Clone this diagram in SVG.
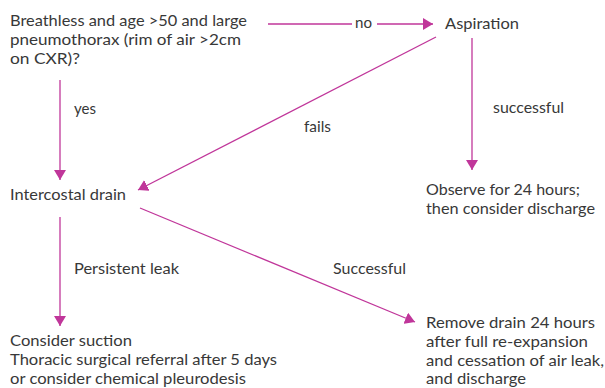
<svg xmlns="http://www.w3.org/2000/svg" width="605" height="388" viewBox="0 0 605 388">
<style>
text{font-family:Lato,"Open Sans","Liberation Sans",sans-serif;font-size:16px;fill:#383838}
.c{stroke:#c0369a;stroke-width:1.3;fill:none}
</style>
<defs>
<marker id="ah" viewBox="0 0 10 12" refX="10" refY="6" markerWidth="10" markerHeight="12" markerUnits="userSpaceOnUse" orient="auto">
<path d="M0,0 L10,6 L0,12 Z" fill="#c0369a"/>
</marker>
</defs>
<rect width="605" height="388" fill="#fff"/>
<g id="q">
<text x="10" y="26" textLength="237" lengthAdjust="spacingAndGlyphs">Breathless and age &gt;50 and large</text>
<text x="10" y="45" textLength="231" lengthAdjust="spacingAndGlyphs">pneumothorax (rim of air &gt;2cm</text>
<text x="10" y="64" textLength="70" lengthAdjust="spacingAndGlyphs">on CXR)?</text>
</g>
<g id="aspiration"><text x="445" y="29" textLength="74" lengthAdjust="spacingAndGlyphs">Aspiration</text></g>
<g id="drain"><text x="10" y="200" textLength="116" lengthAdjust="spacingAndGlyphs">Intercostal drain</text></g>
<g id="observe">
<text x="426" y="195" textLength="154" lengthAdjust="spacingAndGlyphs">Observe for 24 hours;</text>
<text x="426" y="214" textLength="169" lengthAdjust="spacingAndGlyphs">then consider discharge</text>
</g>
<g id="suction">
<text x="10" y="346" textLength="122" lengthAdjust="spacingAndGlyphs">Consider suction</text>
<text x="10" y="365" textLength="267" lengthAdjust="spacingAndGlyphs">Thoracic surgical referral after 5 days</text>
<text x="10" y="384" textLength="236" lengthAdjust="spacingAndGlyphs">or consider chemical pleurodesis</text>
</g>
<g id="remove">
<text x="426" y="328" textLength="169" lengthAdjust="spacingAndGlyphs">Remove drain 24 hours</text>
<text x="426" y="347" textLength="162" lengthAdjust="spacingAndGlyphs">after full re-expansion</text>
<text x="426" y="366" textLength="178" lengthAdjust="spacingAndGlyphs">and cessation of air leak,</text>
<text x="426" y="384" textLength="100" lengthAdjust="spacingAndGlyphs">and discharge</text>
</g>
<g id="connectors">
<line class="c" x1="268" y1="24" x2="352" y2="24"/>
<line class="c" x1="377" y1="24" x2="433" y2="24" marker-end="url(#ah)"/>
<text x="355" y="28" textLength="17" lengthAdjust="spacingAndGlyphs">no</text>
<line class="c" x1="60" y1="80" x2="60" y2="180" marker-end="url(#ah)"/>
<text x="74" y="114" textLength="22" lengthAdjust="spacingAndGlyphs">yes</text>
<line class="c" x1="436" y1="37" x2="138" y2="190" marker-end="url(#ah)"/>
<text x="304" y="132" textLength="27" lengthAdjust="spacingAndGlyphs">fails</text>
<line class="c" x1="472" y1="38" x2="472" y2="170" marker-end="url(#ah)"/>
<text x="493" y="113" textLength="71" lengthAdjust="spacingAndGlyphs">successful</text>
<line class="c" x1="60" y1="217" x2="60" y2="326" marker-end="url(#ah)"/>
<text x="74" y="274" textLength="105" lengthAdjust="spacingAndGlyphs">Persistent leak</text>
<line class="c" x1="140" y1="208" x2="415" y2="322" marker-end="url(#ah)"/>
<text x="333" y="274" textLength="73" lengthAdjust="spacingAndGlyphs">Successful</text>
</g>
</svg>
